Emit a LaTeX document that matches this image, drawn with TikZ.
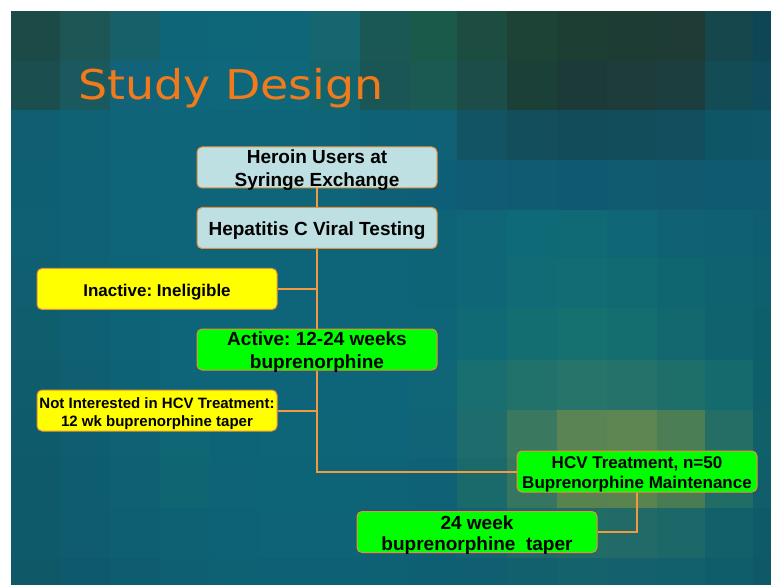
\documentclass[tikz,border=0pt]{standalone}
\usepackage{fontspec}
\usepackage{graphicx}
\setmainfont{Liberation Sans}
\newfontfamily\titlefont{DejaVu Sans}
\frenchspacing
\definecolor{boxline}{HTML}{E8913A}
\definecolor{linkline}{HTML}{F29A42}
\definecolor{paleblue}{HTML}{BEE0E3}
\definecolor{brightyellow}{HTML}{FFFF00}
\definecolor{brightgreen}{HTML}{00FF00}
\definecolor{titleorange}{HTML}{F27A1A}

% column edges of the background mosaic
\def\tilecols{{11,60,110,160,210,260,310,360,410,457,507,557,607,657,705,753,771}}
% one row of tiles: top edge, bottom edge, list of HTML colours
\newcommand\tilerow[3]{%
  \foreach \c [count=\i from 0] in {#3}{
    \pgfmathsetmacro\xa{\tilecols[\i]}
    \pgfmathsetmacro\xb{\tilecols[\i+1]}
    \definecolor{tilec}{HTML}{\c}
    \fill[tilec] (\xa,#1) rectangle (\xb,#2);
  }%
}

\tikzset{
  stagebox/.style={draw=boxline, line width=1pt, rounded corners=5pt,
    minimum width=240pt, minimum height=41pt, inner sep=0pt},
  stagetext/.style={align=center, inner sep=0pt, text=black, yshift=-3pt},
  bigtext/.style={stagetext, font=\fontsize{19}{23}\selectfont\bfseries},
  midtext/.style={stagetext, font=\fontsize{17}{20}\selectfont\bfseries},
  smalltext/.style={stagetext, font=\fontsize{15}{18}\selectfont\bfseries},
  link/.style={draw=linkline, line width=2pt},
}

\begin{document}
\begin{tikzpicture}[x=1pt, y=-1pt]
\useasboundingbox (0,0) rectangle (771,585);
\fill[white] (0,0) rectangle (771,585);

% mosaic background
\tilerow{11}{61}{1C4A46,1E5655,17606A,0F6578,0E6679,0F6679,166670,1A5856,1A5A4A,1D4C40,1D4236,1C3E33,1D3C33,1E3B36,15474C,0F4656}
\tilerow{61}{110}{1B4E4E,1A5A5E,12637A,0E667A,0E677A,0F677A,14646E,1B5656,1B5A52,1C4D48,1B4038,1C3B38,1D3C3A,1D3E3E,144C55,0E4B5C}
\tilerow{110}{160}{0F5F70,0F6274,0F6477,0E6579,0E6579,0E6579,0F6478,0F6276,106076,125464,124E5C,124C5B,124D5C,124F5E,0F5568,0E5668}
\tilerow{160}{210}{0F5F72,0F6275,0E6478,0E6579,0E6579,0E6579,0E6579,0F6077,0F5E78,0F5C74,105A72,0F5A72,105B70,10596E,0F5A70,0F5A70}
\tilerow{210}{258}{0F6072,0F6275,0E6478,0E6579,0E6579,0E6579,0E6579,0E6478,0E6377,0F6676,0F6A77,0F6A76,0F6674,106272,0F6070,0F5E70}
\tilerow{258}{308}{0F5F70,0F6174,0E6477,0E6579,0E6579,0E6579,0E6579,0E6478,0E6477,0F6677,106B76,116C74,116A72,106670,0F6270,0F5F6E}
\tilerow{308}{360}{0F5E6E,0F6073,0E6377,0E6579,0E6579,0E6579,0E6579,0E6478,0E6577,106A75,136E72,157070,146E70,12686E,10636E,0F5E6C}
\tilerow{360}{410}{0E5C6C,0F5F71,0E6276,0E6478,0E6579,0E6579,0E6579,0E6478,106676,196E70,22726C,26746A,24726A,1E6E6A,146A6C,0F5F6A}
\tilerow{410}{458}{0E5B6B,0E5E70,0F6173,0F6674,0E6477,0E6578,0E6578,0E6478,106476,1E6C6C,3A7860,5A8454,5E8652,4C7E56,246E66,10606A}
\tilerow{458}{508}{0E5A6A,0E5D6F,0F6072,0F6572,0E6376,0E6477,0E6477,0E6377,0F6275,1A6A6C,367660,58824F,5A844F,4A7C54,226C66,105E6A}
\tilerow{508}{558}{0E596A,0E5C6E,0E5F71,0E6173,0E6275,0E6376,0E6376,0E6276,0E6174,126470,1C6A6A,226C66,216A67,1C6869,12606A,0F5A68}
\tilerow{558}{585}{0E5868,0E5A6C,0E5D6F,0E5F71,0E6073,0E6174,0E6174,0E6073,0E5F72,0F5F70,12606E,14626C,14606C,12606C,0F5C6A,0E5868}

% title
\node[anchor=base west, inner sep=0pt, text=titleorange,
      font=\titlefont\fontsize{41}{48}\selectfont] (title) at (78,100)
  {\scalebox{1.12}[1]{Study Design}};

% stage boxes
\node[stagebox, fill=paleblue] (users) at (317,167.5) {};
\node[stagebox, fill=paleblue] (testing) at (317,228) {};
\node[stagebox, fill=brightyellow] (inactive) at (157,289) {};
\node[stagebox, fill=brightgreen] (active) at (317,349.5) {};
\node[stagebox, fill=brightyellow] (notint) at (157,410.5) {};
\node[stagebox, fill=brightgreen] (treat) at (637,471.5) {};
\node[stagebox, fill=brightgreen] (taper) at (477,532) {};

% stage labels
\node[bigtext] (userslabel) at (users) {Heroin Users at\\Syringe Exchange};
\node[bigtext] (testinglabel) at (testing) {Hepatitis C Viral Testing};
\node[midtext] (inactivelabel) at (inactive) {Inactive: Ineligible};
\node[bigtext] (activelabel) at (active) {Active: 12-24 weeks\\buprenorphine};
\node[smalltext] (notintlabel) at (notint) {Not Interested in HCV Treatment:\\12 wk buprenorphine taper};
\node[midtext] (treatlabel) at (treat) {HCV Treatment, n=50\\Buprenorphine Maintenance};
\node[stagetext, font=\fontsize{19}{21}\selectfont\bfseries] (taperlabel) at (taper) {24 week\\buprenorphine\ \ taper};

% connectors
\draw[link] (users.south) -- (testing.north);
\draw[link] (testing.south) -- (active.north);
\draw[link] (inactive.east) -- (inactive.east -| testing.south);
\draw[link] (active.south) |- (treat.west);
\draw[link] (notint.east) -- (notint.east -| active.south);
\draw[link] (treat.south) |- (taper.east);
\end{tikzpicture}
\end{document}
